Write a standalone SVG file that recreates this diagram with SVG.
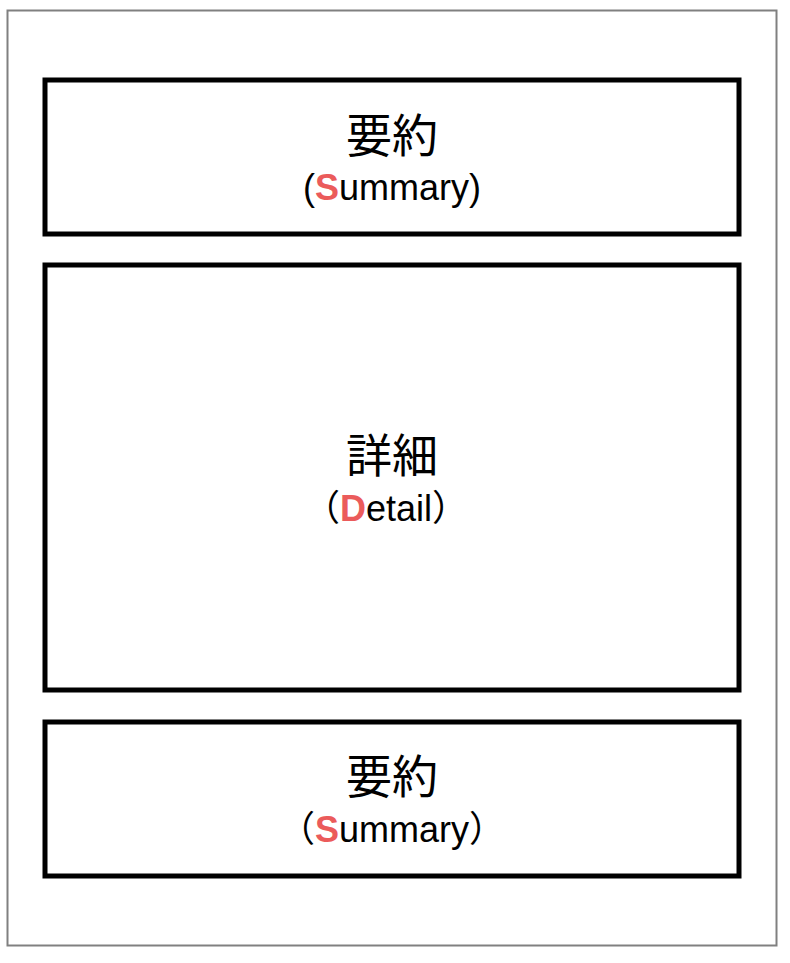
<svg xmlns="http://www.w3.org/2000/svg" width="790" height="963" viewBox="0 0 790 963">
<style>
.frame{fill:#fff;stroke:#808080;stroke-width:2}
.box{fill:#fff;stroke:#000;stroke-width:5}
.jp{font-family:"Noto Sans CJK JP","Liberation Sans",sans-serif;font-size:46px;fill:#000;text-anchor:middle}
.en{font-family:"Liberation Sans","Noto Sans CJK JP",sans-serif;font-size:36px;fill:#000;text-anchor:middle}
.fw{font-family:"Noto Sans CJK JP",sans-serif}
.hl{fill:#EB5B5B;font-weight:bold}
</style>
<rect width="790" height="963" fill="#fff"/>
<rect class="frame" x="7.5" y="10.5" width="769" height="935"/>
<g id="summary-top">
<rect class="box" x="45" y="80" width="694" height="154"/>
<text class="jp" x="392" y="152">要約</text>
<text class="en" x="392" y="200">(<tspan class="hl">S</tspan>ummary)</text>
</g>
<g id="detail">
<rect class="box" x="45" y="265" width="694" height="425"/>
<text class="jp" x="392" y="472">詳細</text>
<text class="en" x="386" y="521"><tspan class="fw">（</tspan><tspan class="hl">D</tspan>etail<tspan class="fw">）</tspan></text>
</g>
<g id="summary-bottom">
<rect class="box" x="45" y="722" width="694" height="154"/>
<text class="jp" x="392" y="793">要約</text>
<text class="en" x="392" y="842"><tspan class="fw">（</tspan><tspan class="hl">S</tspan>ummary<tspan class="fw">）</tspan></text>
</g>
<g id="connectors"/>
</svg>
